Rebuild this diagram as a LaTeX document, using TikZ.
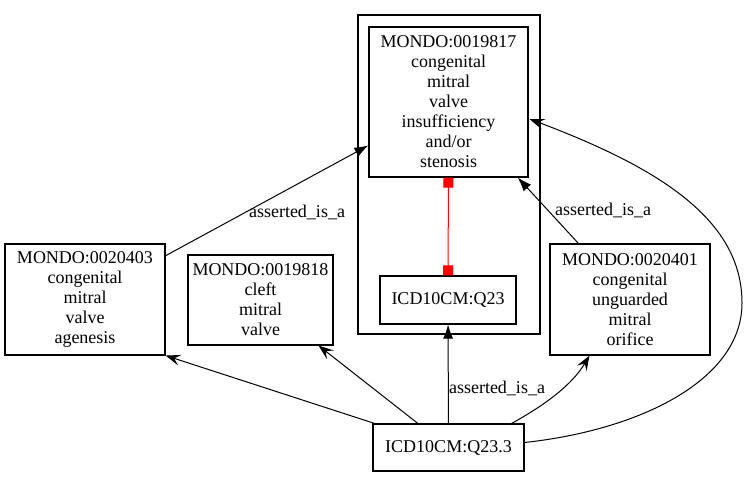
\documentclass[tikz,border=0pt]{standalone}
\usepackage{fontspec}
\setmainfont{Liberation Serif}
\usetikzlibrary{arrows.meta,calc}
\begin{document}
\begin{tikzpicture}[x=1pt,y=-1pt,
 box/.style={draw,line width=1.1pt,rectangle,align=center,inner sep=0pt,font=\fontsize{18}{20}\selectfont},
 lbl/.style={font=\fontsize{18}{20}\selectfont,inner sep=0pt},
 filled/.style={-{Latex[length=14pt,width=10pt]},line width=1pt},
 veed/.style={-{Stealth[length=15pt,width=11pt,inset=6pt]},line width=1pt},
 redsq/.style={{Square[length=10pt,width=10pt]}-{Square[length=10pt,width=10pt]},red,line width=1pt}]
\useasboundingbox (0,0) rectangle (747,477);
\node[draw,line width=1.1pt,minimum width=182pt,minimum height=319pt,inner sep=0pt] (cluster) at (449,174.5) {};
\node[box,minimum width=159pt,minimum height=150pt] (n19817) at (448.5,102) {MONDO:0019817\\congenital\\mitral\\valve\\insufficiency\\and/or\\stenosis};
\node[box,minimum width=136pt,minimum height=48pt] (q23) at (448,300) {ICD10CM:Q23};
\node[box,minimum width=160pt,minimum height=111pt] (n20403) at (85,299.5) {MONDO:0020403\\congenital\\mitral\\valve\\agenesis};
\node[box,minimum width=145pt,minimum height=90pt] (n19818) at (260.5,300) {MONDO:0019818\\cleft\\mitral\\valve};
\node[box,minimum width=160pt,minimum height=111pt] (n20401) at (630,299.5) {MONDO:0020401\\congenital\\unguarded\\mitral\\orifice};
\node[box,minimum width=151pt,minimum height=47pt] (q233) at (448.5,447.5) {ICD10CM:Q23.3};
\draw[redsq] (n19817.south) -- (q23.north);
\draw[filled] (n20403) -- (n19817);
\draw[filled] (n20401) -- (n19817);
\draw[filled] (q233) -- (q23);
\draw[veed] (q233) -- (n20403.south east);
\draw[veed] (q233) -- (n19818);
\draw[veed] ($(q233.north east)+(-13,0)$) .. controls (545,405) and (572,385) .. ($(n20401.south west)+(40,0)$);
\draw[veed] ($(q233.east)+(0,-5)$) .. controls (640,430) and (742,380) .. (742,303) .. controls (742,220) and (660,168) .. ($(n19817.east)+(1,17)$);
\node[lbl] (l1) at (297,212) {asserted\_is\_a};
\node[lbl] (l2) at (603,210) {asserted\_is\_a};
\node[lbl] (l3) at (497,388) {asserted\_is\_a};
\end{tikzpicture}
\end{document}
